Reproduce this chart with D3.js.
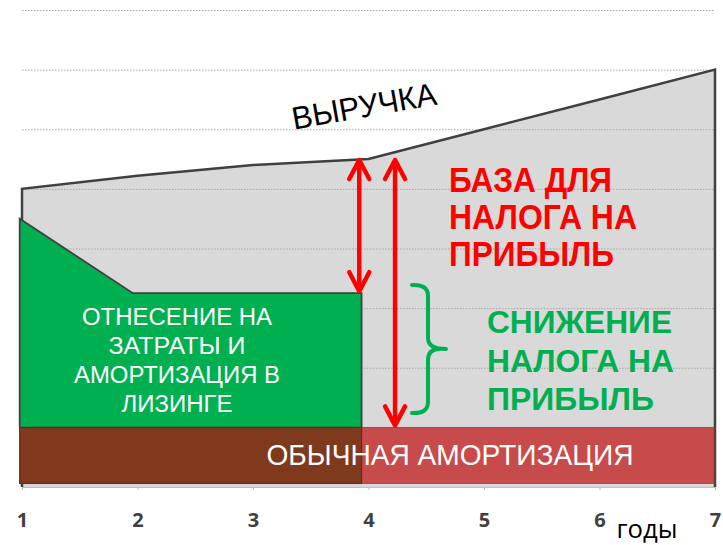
<!DOCTYPE html>
<html>
<head>
<meta charset="UTF-8">
<style>
  body { margin: 0; background: #fff; }
  svg { display: block; }
  .narrow { font-family: "Liberation Sans Narrow", "Arial Narrow", "Liberation Sans", Arial, sans-serif; }
  .bold { font-family: "Liberation Sans", Arial, sans-serif; font-weight: bold; }
</style>
</head>
<body>
<script src="https://cdn.jsdelivr.net/npm/d3@7"></script>
<svg width="723" height="545"></svg>
<script>
// years on the x axis and the chart series (units: grid steps)
var years = [1, 2, 3, 4, 5, 6, 7];
var revenue = [5.0, 5.22, 5.4, 5.5, 6.0, 6.5, 7.0];
var leaseYears = [0.98, 1.96, 3.94];
var leaseCost = [4.5, 3.25, 3.25];
var amortLevel = [0.06, 1];        // bottom and top of regular amortisation band
var gridValues = [1, 2, 3, 4, 5, 6, 7, 8];
// annotation arrows: year position, from value, to value
var arrows = [[3.92, 5.5, 3.25], [4.23, 5.5, 1]];

var svg = d3.select("svg");

var x = d3.scaleLinear().domain([1, 7]).range([22, 715]);
var y = d3.scaleLinear().domain([0, 8]).range([487, 10]);

// revenue area (grey)
var revPts = years.map(function(d, i) { return [d, revenue[i]]; });
svg.append("path")
  .datum(revPts)
  .attr("fill", "#d9d9d9")
  .attr("d", d3.area().x(function(d) { return x(d[0]); }).y0(y(0)).y1(function(d) { return y(d[1]); }));

// dotted grid lines
svg.append("g").selectAll("line")
  .data(gridValues).enter().append("line")
  .attr("x1", x(1)).attr("x2", x(7))
  .attr("y1", function(d) { return y(d) + 0.5; })
  .attr("y2", function(d) { return y(d) + 0.5; })
  .attr("stroke", "#a6a6a6")
  .attr("stroke-width", 1)
  .attr("stroke-dasharray", "1.5,1.5");

// revenue outline
var outline = [[1, 0]].concat(revPts).concat([[7, 0]]);
svg.append("path")
  .datum(outline)
  .attr("fill", "none")
  .attr("stroke", "#404040")
  .attr("stroke-width", 2.5)
  .attr("stroke-linejoin", "miter")
  .attr("d", d3.line().x(function(d) { return x(d[0]); }).y(function(d) { return y(d[1]); }));

// regular amortisation after the lease (red)
var leaseEnd = leaseYears[leaseYears.length - 1];
svg.append("rect")
  .attr("x", x(leaseEnd)).attr("width", x(7) - 1 - x(leaseEnd))
  .attr("y", y(amortLevel[1])).attr("height", y(amortLevel[0]) - y(amortLevel[1]))
  .attr("fill", "#c84b4b")
  .attr("stroke", "#a33a3a").attr("stroke-width", 0.8);

// leasing costs (green)
var leasePts = [[leaseYears[0], amortLevel[1]]]
  .concat(leaseYears.map(function(d, i) { return [d, leaseCost[i]]; }))
  .concat([[leaseEnd, amortLevel[1]]]);
svg.append("path")
  .datum(leasePts)
  .attr("fill", "#00b050")
  .attr("stroke", "#404040")
  .attr("stroke-width", 1.8)
  .attr("d", d3.line().x(function(d) { return x(d[0]); }).y(function(d) { return y(d[1]); }));

// amortisation during lease (brown)
svg.append("rect")
  .attr("x", x(leaseYears[0])).attr("width", x(leaseEnd) - x(leaseYears[0]))
  .attr("y", y(amortLevel[1])).attr("height", y(amortLevel[0]) - y(amortLevel[1]))
  .attr("fill", "#7f3a1e")
  .attr("stroke", "#7a1e1e").attr("stroke-width", 1.2);

// x axis
var xAxis = svg.append("g")
  .attr("transform", "translate(0," + y(0) + ")")
  .call(d3.axisBottom(x).tickValues(years).tickFormat(d3.format("d")).tickSize(3).tickPadding(23));
xAxis.select(".domain").attr("stroke", "#bfbfbf").attr("stroke-width", 1.2);
xAxis.selectAll(".tick line").attr("stroke", "#bfbfbf");
xAxis.selectAll(".tick text")
  .attr("fill", "#404040")
  .style("font-family", "'Open Sans', sans-serif")
  .style("font-weight", "bold")
  .style("font-size", "20px");

svg.append("text")
  .attr("x", 647).attr("y", 538)
  .attr("text-anchor", "middle")
  .attr("textLength", 61).attr("lengthAdjust", "spacingAndGlyphs")
  .style("font-family", "'Open Sans', sans-serif")
  .style("font-size", "25px")
  .attr("fill", "#000")
  .text("годы");

// labels
svg.append("text")
  .attr("class", "narrow")
  .attr("transform", "translate(366,117) rotate(-10)")
  .attr("text-anchor", "middle")
  .attr("textLength", 146).attr("lengthAdjust", "spacingAndGlyphs")
  .style("font-size", "32px")
  .attr("fill", "#000")
  .text("ВЫРУЧКА");

function block(lines, opts) {
  var t = svg.append("g");
  lines.forEach(function(s, i) {
    t.append("text")
      .attr("class", opts.cls)
      .attr("x", opts.x).attr("y", opts.y + i * opts.dy)
      .attr("text-anchor", opts.anchor)
      .attr("textLength", opts.widths[i]).attr("lengthAdjust", "spacingAndGlyphs")
      .style("font-size", opts.size + "px")
      .attr("fill", opts.fill)
      .text(s);
  });
}

block(["ОТНЕСЕНИЕ НА", "ЗАТРАТЫ И", "АМОРТИЗАЦИЯ В", "ЛИЗИНГЕ"],
  { cls: "narrow", x: 177, y: 325, dy: 29, anchor: "middle", widths: [190, 137, 206, 111], size: 23, fill: "#fff" });

svg.append("text")
  .attr("class", "narrow")
  .attr("x", 450).attr("y", 465)
  .attr("text-anchor", "middle")
  .attr("textLength", 367).attr("lengthAdjust", "spacingAndGlyphs")
  .style("font-size", "29px")
  .attr("fill", "#fff")
  .text("ОБЫЧНАЯ АМОРТИЗАЦИЯ");

block(["БАЗА ДЛЯ", "НАЛОГА НА", "ПРИБЫЛЬ"],
  { cls: "bold", x: 449, y: 192, dy: 37, anchor: "start", widths: [163, 188, 165], size: 35, fill: "#ff0000" });

block(["СНИЖЕНИЕ", "НАЛОГА НА", "ПРИБЫЛЬ"],
  { cls: "bold", x: 487, y: 333, dy: 38.5, anchor: "start", widths: [185, 187, 167], size: 32, fill: "#00b050" });

// green brace
svg.append("path")
  .attr("d", "M412,285 Q428,284 428,296 L428,338 Q428,349 446,349 M428,360 Q428,349 440,349 M428,360 L428,402 Q428,414 412,413")
  .attr("fill", "none")
  .attr("stroke", "#00b050")
  .attr("stroke-width", 4)
  .attr("stroke-linecap", "round");

// red double arrows
var ag = svg.append("g").attr("stroke", "#ff0000").attr("fill", "none")
  .attr("stroke-width", 4.5).attr("stroke-linecap", "round").attr("stroke-linejoin", "round");
arrows.forEach(function(a) {
  var ax = x(a[0]), y1 = y(a[1]) + 1, y2 = y(a[2]) - 2;
  ag.append("line").attr("x1", ax).attr("x2", ax).attr("y1", y1 + 2).attr("y2", y2 - 2);
  ag.append("path").attr("d", "M" + (ax - 10) + "," + (y1 + 19) + " L" + ax + "," + y1 + " L" + (ax + 10) + "," + (y1 + 19));
  ag.append("path").attr("d", "M" + (ax - 10) + "," + (y2 - 19) + " L" + ax + "," + y2 + " L" + (ax + 10) + "," + (y2 - 19));
});
</script>
</body>
</html>
